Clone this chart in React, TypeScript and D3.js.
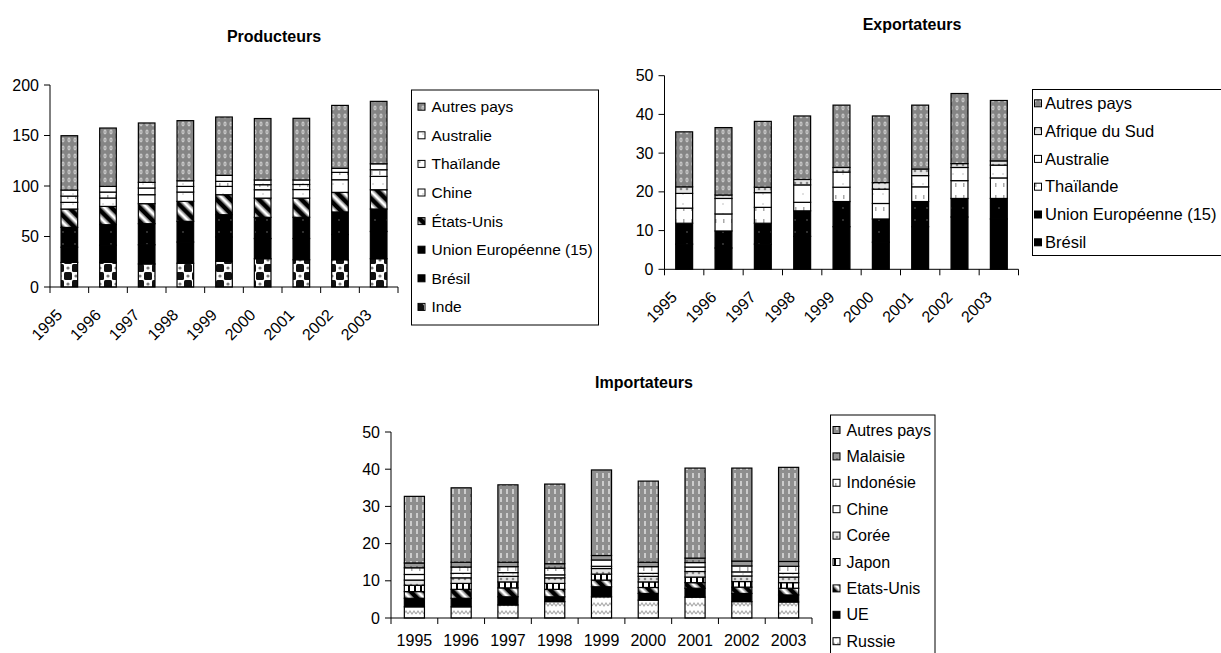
import React from "react";
import * as d3 from "d3";

// ---------- DATA ----------
const years = ["1995", "1996", "1997", "1998", "1999", "2000", "2001", "2002", "2003"];

// Producteurs (stack order bottom -> top)
const prodInde = [24.4, 24.4, 22.8, 23.5, 25.5, 28, 27, 27, 28];
const prodBresil = [15, 17, 19, 21, 24, 20, 21, 25, 27];
const prodUE = [19.6, 20.3, 20.9, 20.5, 22.1, 21, 21, 22.3, 22.2];
const prodEtatsUnis = [18.2, 18.1, 19.8, 19.8, 19.8, 19, 19, 19.4, 19.1];
const prodChine = [6.6, 8.3, 8.9, 9.2, 8.2, 8.3, 8.5, 12.5, 13.2];
const prodThailande = [6.2, 5.9, 6.6, 5.6, 5, 5, 5, 7.3, 6.6];
const prodAustralie = [6, 5.6, 5.6, 5.6, 5.9, 4.7, 4.5, 4, 5.9];
const prodAutres = [53.8, 57.8, 58.8, 59.5, 57.8, 60.8, 61, 62.3, 61.8];
const prodTicks = [0, 50, 100, 150, 200];

// Exportateurs
const expBresil = [6.5, 5.5, 6.5, 8.5, 11, 7, 11, 13.5, 13];
const expUE = [5.4, 4.4, 5.4, 6.6, 6.5, 6, 6.5, 4.8, 5.3];
const expThailande = [3.9, 4.4, 4.1, 2.2, 3.7, 4, 3.8, 4.6, 5.3];
const expAustralie = [3.8, 4, 3.8, 4.5, 3.9, 3.7, 2.9, 3.4, 3.3];
const expAfriqueSud = [1.7, 0.9, 1.4, 1.4, 1.2, 1.7, 1.7, 1.0, 1.1];
const expAutres = [14.2, 17.4, 17, 16.4, 16.1, 17.2, 16.5, 18.1, 15.6];
const expTicks = [0, 10, 20, 30, 40, 50];

// Importateurs
const impRussie = [3.0, 3.0, 3.5, 4.4, 5.7, 4.8, 5.6, 4.4, 4.3];
const impUE = [2.3, 2.3, 2.2, 1.3, 2.7, 1.8, 2.4, 2.2, 1.9];
const impEtatsUnis = [1.8, 2.4, 2.4, 2.0, 1.8, 1.6, 1.5, 1.7, 1.8];
const impJapon = [1.7, 1.6, 1.6, 1.6, 1.6, 1.5, 1.5, 1.5, 1.5];
const impCoree = [1.4, 1.5, 1.5, 1.5, 1.5, 1.5, 1.5, 1.5, 1.5];
const impChine = [1.5, 1.2, 1.0, 0.8, 0.6, 0.8, 1.2, 1.1, 1.0];
const impIndonesie = [1.8, 1.7, 1.6, 1.8, 1.7, 1.8, 1.2, 1.6, 1.9];
const impMalaisie = [1.3, 1.3, 1.2, 1.2, 1.2, 1.2, 1.2, 1.3, 1.3];
const impAutres = [17.9, 20.0, 20.8, 21.4, 23.0, 21.8, 24.2, 25.0, 25.3];
const impTicks = [0, 10, 20, 30, 40, 50];

type Series = { name: string; values: number[]; fill: string };

const prodSeries: Series[] = [
  { name: "Inde", values: prodInde, fill: "url(#pChecker)" },
  { name: "Brésil", values: prodBresil, fill: "#000" },
  { name: "Union Européenne (15)", values: prodUE, fill: "url(#pBlackDots)" },
  { name: "États-Unis", values: prodEtatsUnis, fill: "url(#pDiag)" },
  { name: "Chine", values: prodChine, fill: "url(#pWhiteDots)" },
  { name: "Thaïlande", values: prodThailande, fill: "url(#pWhiteDots2)" },
  { name: "Australie", values: prodAustralie, fill: "url(#pWhiteDots)" },
  { name: "Autres pays", values: prodAutres, fill: "url(#pAutres)" },
];

const expSeries: Series[] = [
  { name: "Brésil", values: expBresil, fill: "#000" },
  { name: "Union Européenne (15)", values: expUE, fill: "url(#pBlackDots)" },
  { name: "Thaïlande", values: expThailande, fill: "url(#pWhiteDots2)" },
  { name: "Australie", values: expAustralie, fill: "url(#pWhiteDots)" },
  { name: "Afrique du Sud", values: expAfriqueSud, fill: "url(#pLightGray)" },
  { name: "Autres pays", values: expAutres, fill: "url(#pAutres)" },
];

const impSeries: Series[] = [
  { name: "Russie", values: impRussie, fill: "url(#pZigzag)" },
  { name: "UE", values: impUE, fill: "#000" },
  { name: "Etats-Unis", values: impEtatsUnis, fill: "url(#pDiag)" },
  { name: "Japon", values: impJapon, fill: "url(#pVert)" },
  { name: "Corée", values: impCoree, fill: "url(#pLightGray)" },
  { name: "Chine", values: impChine, fill: "url(#pWhiteDots)" },
  { name: "Indonésie", values: impIndonesie, fill: "url(#pWhiteDots2)" },
  { name: "Malaisie", values: impMalaisie, fill: "url(#pGray)" },
  { name: "Autres pays", values: impAutres, fill: "url(#pAutresV)" },
];

const FONT = "'Liberation Sans', Arial, Helvetica, sans-serif";

type Cfg = {
  title: string;
  titleX: number;
  titleY: number;
  series: Series[];
  ticks: number[];
  x0: number;
  x1: number;
  yZero: number;
  yTop: number;
  max: number;
  rotate: boolean;
  legend: { x: number; y: number; w: number; h: number; iconX: number; textX: number; row0: number; step: number; fs: number };
};

function Chart({ cfg }: { cfg: Cfg }) {
  const keys = cfg.series.map((s) => s.name);
  const rows = years.map((yr, i) => {
    const r: any = { year: yr };
    cfg.series.forEach((s) => (r[s.name] = s.values[i]));
    return r;
  });
  const stacked = d3.stack<any>().keys(keys)(rows);
  const pad = 0.57;
  const x = d3.scaleBand<string>().domain(years).range([cfg.x0, cfg.x1]).paddingInner(pad).paddingOuter(pad / 2);
  const y = d3.scaleLinear().domain([0, cfg.max]).range([cfg.yZero, cfg.yTop]);
  const step = x.step();
  const lg = cfg.legend;
  const legendItems = [...cfg.series].reverse();
  return (
    <g fontFamily={FONT}>
      <text x={cfg.titleX} y={cfg.titleY} textAnchor="middle" fontWeight="bold" fontSize={16}>
        {cfg.title}
      </text>
      {stacked.map((layer, li) => (
        <g key={li}>
          {layer.map((d, i) => (
            <rect
              key={i}
              x={x(years[i])}
              y={y(d[1])}
              width={x.bandwidth()}
              height={y(d[0]) - y(d[1])}
              fill={cfg.series[li].fill}
              stroke="#000"
              strokeWidth={1.2}
            />
          ))}
        </g>
      ))}
      {/* y axis */}
      <line x1={cfg.x0} x2={cfg.x0} y1={y(0)} y2={y(cfg.max)} stroke="#000" />
      {cfg.ticks.map((t) => (
        <g key={t}>
          <line x1={cfg.x0 - 6} x2={cfg.x0} y1={y(t)} y2={y(t)} stroke="#000" />
          <text x={cfg.x0 - 11} y={y(t)} dy="0.35em" textAnchor="end" fontSize={16}>
            {t}
          </text>
        </g>
      ))}
      {/* x axis */}
      <line x1={cfg.x0} x2={cfg.x1} y1={y(0)} y2={y(0)} stroke="#000" />
      {d3.range(years.length + 1).map((i) => (
        <line key={i} x1={cfg.x0 + i * step} x2={cfg.x0 + i * step} y1={y(0)} y2={y(0) + 6} stroke="#000" />
      ))}
      {years.map((yr) => {
        const cx = (x(yr) as number) + x.bandwidth() / 2;
        return cfg.rotate ? (
          <text key={yr} transform={`translate(${cx - 6},${y(0) + 29}) rotate(-45)`} textAnchor="end" fontSize={16}>
            {yr}
          </text>
        ) : (
          <text key={yr} x={cx} y={y(0) + 28} textAnchor="middle" fontSize={16}>
            {yr}
          </text>
        );
      })}
      {/* legend */}
      <rect x={lg.x} y={lg.y} width={lg.w} height={lg.h} fill="#fff" stroke="#000" strokeWidth={1} />
      {legendItems.map((s, i) => {
        const cy = lg.row0 + i * lg.step;
        return (
          <g key={s.name}>
            <rect x={lg.iconX} y={cy - 3.5} width={7} height={7} fill={s.fill} stroke="#000" strokeWidth={1} />
            <text x={lg.textX} y={cy} dy="0.35em" fontSize={lg.fs}>
              {s.name}
            </text>
          </g>
        );
      })}
    </g>
  );
}

const prodCfg: Cfg = {
  title: "Producteurs",
  titleX: 274,
  titleY: 42,
  series: prodSeries,
  ticks: prodTicks,
  x0: 50,
  x1: 398,
  yZero: 287,
  yTop: 85,
  max: 200,
  rotate: true,
  legend: { x: 411.5, y: 90, w: 187, h: 235, iconX: 418, textX: 431.5, row0: 106.7, step: 28.6, fs: 15.5 },
};

const expCfg: Cfg = {
  title: "Exportateurs",
  titleX: 912,
  titleY: 30,
  series: expSeries,
  ticks: expTicks,
  x0: 664.5,
  x1: 1018.5,
  yZero: 269.3,
  yTop: 75.7,
  max: 50,
  rotate: true,
  legend: { x: 1032.5, y: 89.5, w: 200, h: 166, iconX: 1034.5, textX: 1045, row0: 103.3, step: 27.8, fs: 16.5 },
};

const impCfg: Cfg = {
  title: "Importateurs",
  titleX: 644,
  titleY: 388,
  series: impSeries,
  ticks: impTicks,
  x0: 391,
  x1: 812,
  yZero: 618,
  yTop: 432,
  max: 50,
  rotate: false,
  legend: { x: 830.5, y: 415, w: 104.5, h: 250, iconX: 833, textX: 846.5, row0: 430, step: 26.4, fs: 16 },
};

function Patterns() {
  return (
    <defs>
      <pattern id="pAutres" width="6" height="8" patternUnits="userSpaceOnUse">
        <rect width="6" height="8" fill="#858585" />
        <ellipse cx="3" cy="4" rx="1.6" ry="2.4" fill="#c8c8c8" />
        <ellipse cx="3" cy="4" rx="0.6" ry="1" fill="#999" />
      </pattern>
      <pattern id="pAutresV" width="6" height="8" patternUnits="userSpaceOnUse">
        <rect width="6" height="8" fill="#8e8e8e" />
        <rect x="2.2" y="1" width="1.6" height="5" fill="#dcdcdc" />
      </pattern>
      <pattern id="pChecker" width="16" height="16" patternUnits="userSpaceOnUse">
        <rect width="16" height="16" fill="#fff" />
        <rect x="0" y="0" width="8" height="8" rx="1.5" fill="#111" />
        <rect x="8" y="8" width="8" height="8" rx="1.5" fill="#111" />
        <circle cx="12" cy="4" r="1.6" fill="#777" />
        <circle cx="4" cy="12" r="1.6" fill="#777" />
      </pattern>
      <pattern id="pBlackDots" width="12" height="12" patternUnits="userSpaceOnUse">
        <rect width="12" height="12" fill="#000" />
        <circle cx="3" cy="4" r="0.9" fill="#444" />
      </pattern>
      <pattern id="pDiag" width="10" height="10" patternUnits="userSpaceOnUse" patternTransform="rotate(-45)">
        <rect width="10" height="10" fill="#fff" />
        <rect width="4" height="10" fill="#000" />
        <rect x="4" width="1.5" height="10" fill="#666" />
        <rect x="8.5" width="1.5" height="10" fill="#888" />
      </pattern>
      <pattern id="pWhiteDots" width="10" height="10" patternUnits="userSpaceOnUse">
        <rect width="10" height="10" fill="#fff" />
        <circle cx="3" cy="4" r="0.8" fill="#bbb" />
      </pattern>
      <pattern id="pWhiteDots2" width="8" height="12" patternUnits="userSpaceOnUse">
        <rect width="8" height="12" fill="#fff" />
        <rect x="3" y="3" width="1.5" height="4" fill="#aaa" />
      </pattern>
      <pattern id="pLightGray" width="6" height="6" patternUnits="userSpaceOnUse">
        <rect width="6" height="6" fill="#e4e4e4" />
        <circle cx="3" cy="3" r="1.3" fill="#888" />
      </pattern>
      <pattern id="pGray" width="6" height="6" patternUnits="userSpaceOnUse">
        <rect width="6" height="6" fill="#999" />
        <circle cx="3" cy="3" r="1" fill="#666" />
      </pattern>
      <pattern id="pVert" width="6" height="6" patternUnits="userSpaceOnUse">
        <rect width="6" height="6" fill="#fff" />
        <rect width="2" height="6" fill="#000" />
      </pattern>
      <pattern id="pZigzag" width="8" height="8" patternUnits="userSpaceOnUse">
        <rect width="8" height="8" fill="#fff" />
        <path d="M0 6 L2 3 L4 6 L6 3 L8 6" stroke="#aaa" strokeWidth="1.2" fill="none" />
      </pattern>
    </defs>
  );
}

export default function App() {
  return (
    <svg
      width={1221}
      height={653}
      style={{ position: "absolute", left: 0, top: 0, background: "#fff" }}
    >
      <Patterns />
      <rect width={1221} height={653} fill="#fff" />
      <Chart cfg={prodCfg} />
      <Chart cfg={expCfg} />
      <Chart cfg={impCfg} />
    </svg>
  );
}
